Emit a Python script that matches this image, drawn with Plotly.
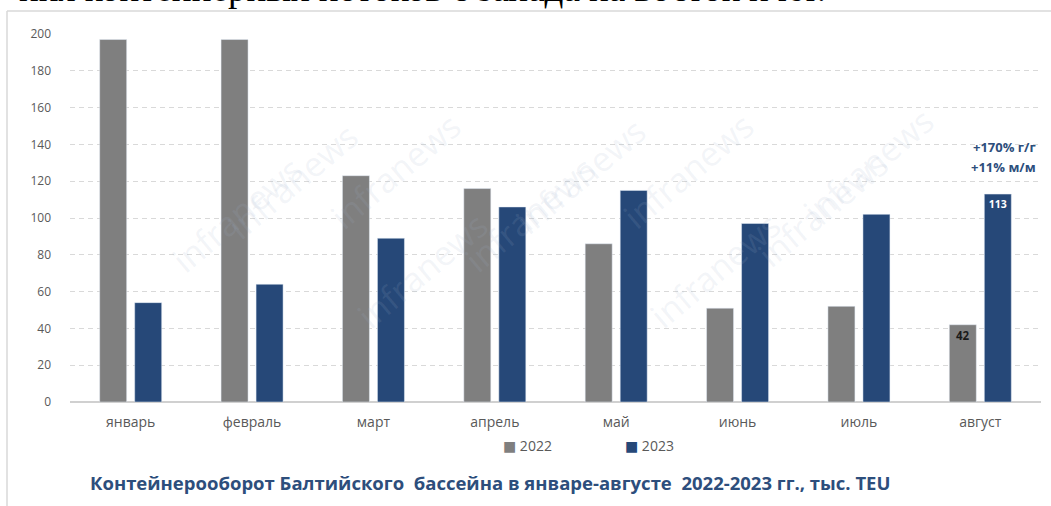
import plotly.graph_objects as go

months = ["январь", "февраль", "март", "апрель", "май", "июнь", "июль", "август"]
vals_2022 = [197, 197, 123, 116, 86, 51, 52, 42]
vals_2023 = [54, 64, 89, 106, 115, 97, 102, 113]
labels_2022 = ["", "", "", "", "", "", "", "42"]
labels_2023 = ["", "", "", "", "", "", "", "113"]
series_names = ["2022", "2023"]
y_ticks = [0, 20, 40, 60, 80, 100, 120, 140, 160, 180, 200]
title_text = "Контейнерооборот Балтийского  бассейна в январе-августе  2022-2023 гг., тыс. TEU"
note_lines = ["+170% г/г", "+11% м/м"]
header_text = "ния контейнерных потоков с запада на восток и юг."
watermark = "infranews"

W, H = 1051, 506
L, R, T, B = 70, 10, 34, 104
PW, PH = W - L - R, H - T - B


def px(x):
    return (x - L) / PW


def py(y):
    return (H - B - y) / PH


GREY = "#7f7f7f"
NAVY = "#264878"
FONT = "Open Sans, Noto Sans, DejaVu Sans, sans-serif"

fig = go.Figure()
fig.add_trace(go.Bar(
    x=months, y=vals_2022, name=series_names[0], marker_color=GREY,
    text=labels_2022, textposition="inside", insidetextanchor="end",
    textfont=dict(color="#1a1a1a", size=11.5, family=FONT, weight="bold"),
    showlegend=False, cliponaxis=False,
))
fig.add_trace(go.Bar(
    x=months, y=vals_2023, name=series_names[1], marker_color=NAVY,
    text=labels_2023, textposition="inside", insidetextanchor="end",
    textfont=dict(color="white", size=10.5, family=FONT, weight="bold"),
    showlegend=False, cliponaxis=False,
))

annotations = []
# watermarks
wm_pos = [(215, 110), (395, 100), (580, 105), (765, 100), (945, 95),
          (160, 285), (345, 270), (530, 285), (715, 270), (900, 280)]
for (wx, wy) in wm_pos:
    annotations.append(dict(
        x=px(wx), y=py(wy), xref="paper", yref="paper", text=watermark,
        showarrow=False, textangle=-40,
        font=dict(size=34, color="rgba(160,178,205,0.14)", family=FONT),
    ))

# legend (manual)
legend_x = [501, 623]
for i, (nm, col) in enumerate(zip(series_names, [GREY, NAVY])):
    annotations.append(dict(
        x=px(legend_x[i]), y=py(445), xref="paper", yref="paper",
        xanchor="left", yanchor="middle", showarrow=False,
        text=f"<span style='color:{col}'>■</span> {nm}",
        font=dict(size=14, color="#595959", family=FONT),
    ))

# title
annotations.append(dict(
    x=px(490), y=py(482), xref="paper", yref="paper", showarrow=False,
    text=title_text, xanchor="center", yanchor="middle",
    font=dict(size=18.5, color="#2d4e7c", family=FONT, weight="bold"),
))

# growth note
for i, line in enumerate(note_lines):
    annotations.append(dict(
        x=px(1038), y=py(147 + 20 * i), xref="paper", yref="paper",
        showarrow=False, text=line, xanchor="right", yanchor="middle",
        font=dict(size=13, color="#2d4e7c", family=FONT, weight="bold"),
    ))

# cut-off header text from the page above
annotations.append(dict(
    x=px(828), y=py(-12), xref="paper", yref="paper", showarrow=False,
    text=header_text, xanchor="right", yanchor="middle",
    font=dict(size=37, color="black", family="Liberation Serif, serif"),
))

shapes = [
    dict(type="line", xref="paper", yref="paper", x0=px(7), x1=px(1060),
         y0=py(11), y1=py(11), line=dict(color="#d9d9d9", width=1.5)),
    dict(type="line", xref="paper", yref="paper", x0=px(7), x1=px(7),
         y0=py(11), y1=py(520), line=dict(color="#d9d9d9", width=1.5)),
]

fig.update_layout(
    width=W, height=H,
    margin=dict(l=L, r=R, t=T, b=B, pad=0),
    paper_bgcolor="white", plot_bgcolor="white",
    barmode="group", bargap=0.423, bargroupgap=0.229,
    annotations=annotations, shapes=shapes,
    font=dict(family=FONT, color="#595959"),
    showlegend=False,
)
fig.update_xaxes(
    type="category", showgrid=False, showline=False, ticks="",
    tickfont=dict(size=14, color="#595959", family=FONT),
    ticklabelstandoff=10,
)
fig.update_yaxes(
    range=[0, 200], tickvals=y_ticks, showgrid=True,
    gridcolor="#d9d9d9", griddash="5px,4px", gridwidth=1,
    zeroline=True, zerolinecolor="#d0d0d0", zerolinewidth=1.5,
    ticks="", ticklabelstandoff=18,
    tickfont=dict(size=12, color="#595959", family=FONT),
)

fig.write_html("out.html")
